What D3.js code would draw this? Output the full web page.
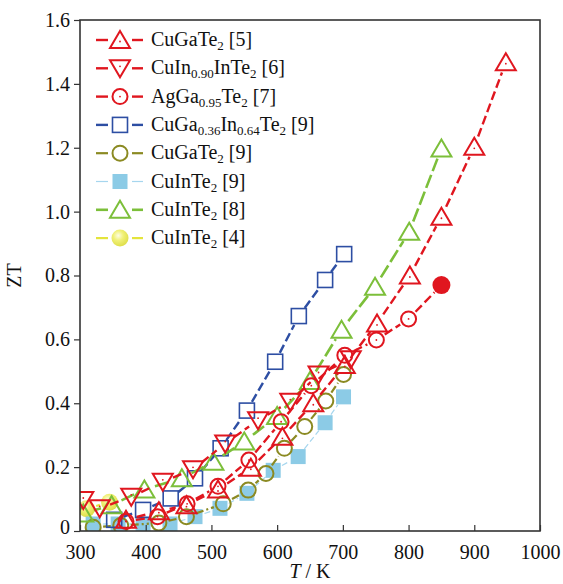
<!DOCTYPE html>
<html><head><meta charset="utf-8">
<script src="https://cdn.jsdelivr.net/npm/d3@7/dist/d3.min.js"></script>
<style>body{margin:0;background:#fff}svg{display:block}text{font-family:"Liberation Serif","Times New Roman",serif;fill:#111}</style>
</head><body>
<svg id="c" width="563" height="584"></svg>
<script>
// ---- data ----
const xTicks = [300,400,500,600,700,800,900,1000];
const yTicks = [0,0.2,0.4,0.6,0.8,1.0,1.2,1.4,1.6];
const yTickLabels = ["0","0.2","0.4","0.6","0.8","1.0","1.2","1.4","1.6"];

const T_CuGaTe2_5 = [370,420,462,510,560,608,655,703,752,802,850,900,948];
const Z_CuGaTe2_5 = [0.035,0.062,0.081,0.13,0.198,0.295,0.40,0.52,0.65,0.80,0.984,1.203,1.468];

const T_CuIn090_6 = [305,330,378,426,472,521,571,620,663,712];
const Z_CuIn090_6 = [0.097,0.071,0.107,0.154,0.193,0.274,0.347,0.405,0.49,0.538];

const T_AgGa095_7 = [370,418,463,510,557,606,652,703,751,800,850];
const Z_AgGa095_7 = [0.03,0.045,0.085,0.14,0.222,0.342,0.455,0.55,0.598,0.664,0.77];

const T_CuGaIn_9 = [352,396,438,475,514,554,597,633,673,702];
const Z_CuGaIn_9 = [0.035,0.066,0.102,0.165,0.259,0.377,0.53,0.673,0.786,0.867];

const T_CuGaTe2_9 = [320,362,420,462,518,556,583,611,642,674,701];
const Z_CuGaTe2_9 = [0.012,0.017,0.025,0.045,0.085,0.128,0.18,0.259,0.327,0.407,0.49];

const T_CuInTe2_9 = [320,358,396,437,475,513,554,594,632,673,701];
const Z_CuInTe2_9 = [0.022,0.022,0.022,0.022,0.045,0.071,0.118,0.19,0.233,0.339,0.42];

const T_CuInTe2_8 = [305,348,398,455,503,550,600,650,698,749,801,850];
const Z_CuInTe2_8 = [0.055,0.081,0.13,0.165,0.217,0.28,0.36,0.47,0.63,0.765,0.937,1.198];

const T_CuInTe2_4 = [310,345];
const Z_CuInTe2_4 = [0.07,0.09];

const legendLabels = [
  [["CuGaTe",0],["2",1],[" [5]",0]],
  [["CuIn",0],["0.90",1],["InTe",0],["2",1],[" [6]",0]],
  [["AgGa",0],["0.95",1],["Te",0],["2",1],[" [7]",0]],
  [["CuGa",0],["0.36",1],["In",0],["0.64",1],["Te",0],["2",1],[" [9]",0]],
  [["CuGaTe",0],["2",1],[" [9]",0]],
  [["CuInTe",0],["2",1],[" [9]",0]],
  [["CuInTe",0],["2",1],[" [8]",0]],
  [["CuInTe",0],["2",1],[" [4]",0]]
];

// ---- styles ----
const series = [
  {T:T_CuInTe2_4, Z:Z_CuInTe2_4, color:"#e4e43c", lw:2.2, dash:"8,4", marker:"sphere", r:8, legend:7},
  {T:T_CuInTe2_9, Z:Z_CuInTe2_9, color:"#a6d6ee", lw:1.2, dash:"6,3", marker:"fsquare", mcolor:"#8ccbe6", r:8, legend:5},
  {T:T_CuGaTe2_9, Z:Z_CuGaTe2_9, color:"#8b8a22", lw:2.2, dash:"8,3,2,3", marker:"circle", r:8, legend:4},
  {T:T_CuGaIn_9, Z:Z_CuGaIn_9, color:"#2d4ea3", lw:2.4, dash:"9,4", marker:"square", r:8, legend:3},
  {T:T_CuInTe2_8, Z:Z_CuInTe2_8, color:"#7cbf3a", lw:2.6, dash:"14,4", marker:"tri", r:9, legend:6},
  {T:T_AgGa095_7, Z:Z_AgGa095_7, color:"#e0161f", lw:2.4, dash:"9,4", marker:"circle", dot:true, r:8, legend:2, lastFilled:true},
  {T:T_CuIn090_6, Z:Z_CuIn090_6, color:"#e0161f", lw:2.4, dash:"9,4", marker:"dtri", dot:true, r:9, legend:1},
  {T:T_CuGaTe2_5, Z:Z_CuGaTe2_5, color:"#e0161f", lw:2.4, dash:"9,4", marker:"tri", dot:true, r:9, legend:0}
];

const svg = d3.select("#c");
const L=80, R=540, Tp=20, B=531;
const x = d3.scaleLinear().domain([300,1000]).range([L,R]);
const y = d3.scaleLinear().domain([0,1.6]).range([B,Tp]);

const defs = svg.append("defs");
const g = defs.append("radialGradient").attr("id","sph").attr("cx","40%").attr("cy","35%").attr("r","65%");
g.append("stop").attr("offset","0%").attr("stop-color","#fdfde0");
g.append("stop").attr("offset","45%").attr("stop-color","#eeee60");
g.append("stop").attr("offset","100%").attr("stop-color","#d9d92a");

const clip = defs.append("clipPath").attr("id","pc");
clip.append("rect").attr("x",L).attr("y",Tp).attr("width",R-L).attr("height",B-Tp);

function drawMarker(sel, s, cx, cy, filled){
  const c = s.color, sw = 2;
  if(s.marker==="tri"){
    sel.append("path").attr("d",`M${cx},${cy-9}L${cx+10},${cy+8}L${cx-10},${cy+8}Z`)
      .attr("fill","none").attr("stroke",c).attr("stroke-width",sw).attr("stroke-linejoin","miter");
  } else if(s.marker==="dtri"){
    sel.append("path").attr("d",`M${cx},${cy+9}L${cx+10},${cy-8}L${cx-10},${cy-8}Z`)
      .attr("fill","none").attr("stroke",c).attr("stroke-width",sw);
  } else if(s.marker==="circle"){
    sel.append("circle").attr("cx",cx).attr("cy",cy).attr("r",filled?9:7.5)
      .attr("fill",filled?c:"none").attr("stroke",c).attr("stroke-width",filled?0:sw);
  } else if(s.marker==="square"){
    sel.append("rect").attr("x",cx-7.5).attr("y",cy-7.5).attr("width",15).attr("height",15)
      .attr("fill","none").attr("stroke",c).attr("stroke-width",1.6);
  } else if(s.marker==="fsquare"){
    sel.append("rect").attr("x",cx-7.5).attr("y",cy-7.5).attr("width",15).attr("height",15)
      .attr("fill",s.mcolor);
  } else if(s.marker==="sphere"){
    sel.append("circle").attr("cx",cx).attr("cy",cy).attr("r",8.5).attr("fill","url(#sph)").attr("opacity",0.85);
  }
  if(s.dot && !filled){
    sel.append("circle").attr("cx",cx).attr("cy",cy+(s.marker==="tri"?1.5:(s.marker==="dtri"?-2:0))).attr("r",0.9).attr("fill",c);
  }
}

function trimmedSegments(pts, r){
  const segs=[];
  for(let i=0;i<pts.length-1;i++){
    const [x1,y1]=pts[i],[x2,y2]=pts[i+1];
    const dx=x2-x1, dy=y2-y1, d=Math.hypot(dx,dy);
    if(d<=2*r+2) continue;
    const ux=dx/d, uy=dy/d;
    segs.push([x1+ux*(r+2),y1+uy*(r+2),x2-ux*(r+2),y2-uy*(r+2)]);
  }
  return segs;
}

const plot = svg.append("g").attr("clip-path","url(#pc)");
series.forEach(s=>{
  const pts = s.T.map((t,i)=>[x(t),y(s.Z[i])]);
  const gs = plot.append("g");
  trimmedSegments(pts, s.r).forEach(sg=>{
    gs.append("line").attr("x1",sg[0]).attr("y1",sg[1]).attr("x2",sg[2]).attr("y2",sg[3])
      .attr("stroke",s.color).attr("stroke-width",s.lw).attr("stroke-dasharray",s.dash);
  });
  pts.forEach((p,i)=>drawMarker(gs,s,p[0],p[1], s.lastFilled && i===pts.length-1));
});

// frame
svg.append("rect").attr("x",L).attr("y",Tp).attr("width",R-L).attr("height",B-Tp)
  .attr("fill","none").attr("stroke","#333").attr("stroke-width",1.6);

// x axis
const xa = svg.append("g").attr("transform",`translate(0,${B})`)
  .call(d3.axisBottom(x).tickValues(xTicks).tickSize(-6).tickPadding(14).tickFormat(d3.format("d")));
xa.select(".domain").remove();
xa.selectAll("line").attr("stroke","#333").attr("stroke-width",1.2);
xa.selectAll("text").attr("font-size",20).attr("font-family","Liberation Serif, serif").attr("fill","#111");

// y axis
const ya = svg.append("g").attr("transform",`translate(${L},0)`)
  .call(d3.axisLeft(y).tickValues(yTicks).tickSize(6).tickPadding(4).tickFormat((d,i)=>yTickLabels[i]));
ya.select(".domain").remove();
ya.selectAll("line").attr("stroke","#333").attr("stroke-width",1.2);
ya.selectAll("text").attr("font-size",20).attr("font-family","Liberation Serif, serif").attr("fill","#111");
ya.selectAll(".tick").filter(d=>d===0).select("text").attr("dy","0.1em");

// axis titles
svg.append("text").attr("transform",`translate(21,${(Tp+B)/2}) rotate(-90)`)
  .attr("text-anchor","middle").attr("font-size",20).text("ZT");
const xt = svg.append("text").attr("x",(L+R)/2).attr("y",578).attr("text-anchor","middle").attr("font-size",20);
xt.append("tspan").attr("font-style","italic").text("T");
xt.append("tspan").text(" / K");

// legend
const lg = svg.append("g");
const rowY = i => 40 + i*28.3;
series.slice().sort((a,b)=>a.legend-b.legend).forEach(s=>{
  const yy = rowY(s.legend);
  const gl = lg.append("g");
  gl.append("line").attr("x1",96).attr("x2",108).attr("y1",yy).attr("y2",yy)
    .attr("stroke",s.color).attr("stroke-width",s.lw);
  gl.append("line").attr("x1",132).attr("x2",143).attr("y1",yy).attr("y2",yy)
    .attr("stroke",s.color).attr("stroke-width",s.lw);
  drawMarker(gl,s,120,yy,false);
  const t = gl.append("text").attr("x",151).attr("y",yy+6).attr("font-size",20);
  let sub=false;
  legendLabels[s.legend].forEach(([txt,isSub])=>{
    const ts = t.append("tspan").text(txt);
    if(isSub && !sub){ ts.attr("font-size",13).attr("dy",4); sub=true; }
    else if(!isSub && sub){ ts.attr("dy",-4); sub=false; }
    else if(isSub){ ts.attr("font-size",13); }
  });
});
</script>
</body></html>
